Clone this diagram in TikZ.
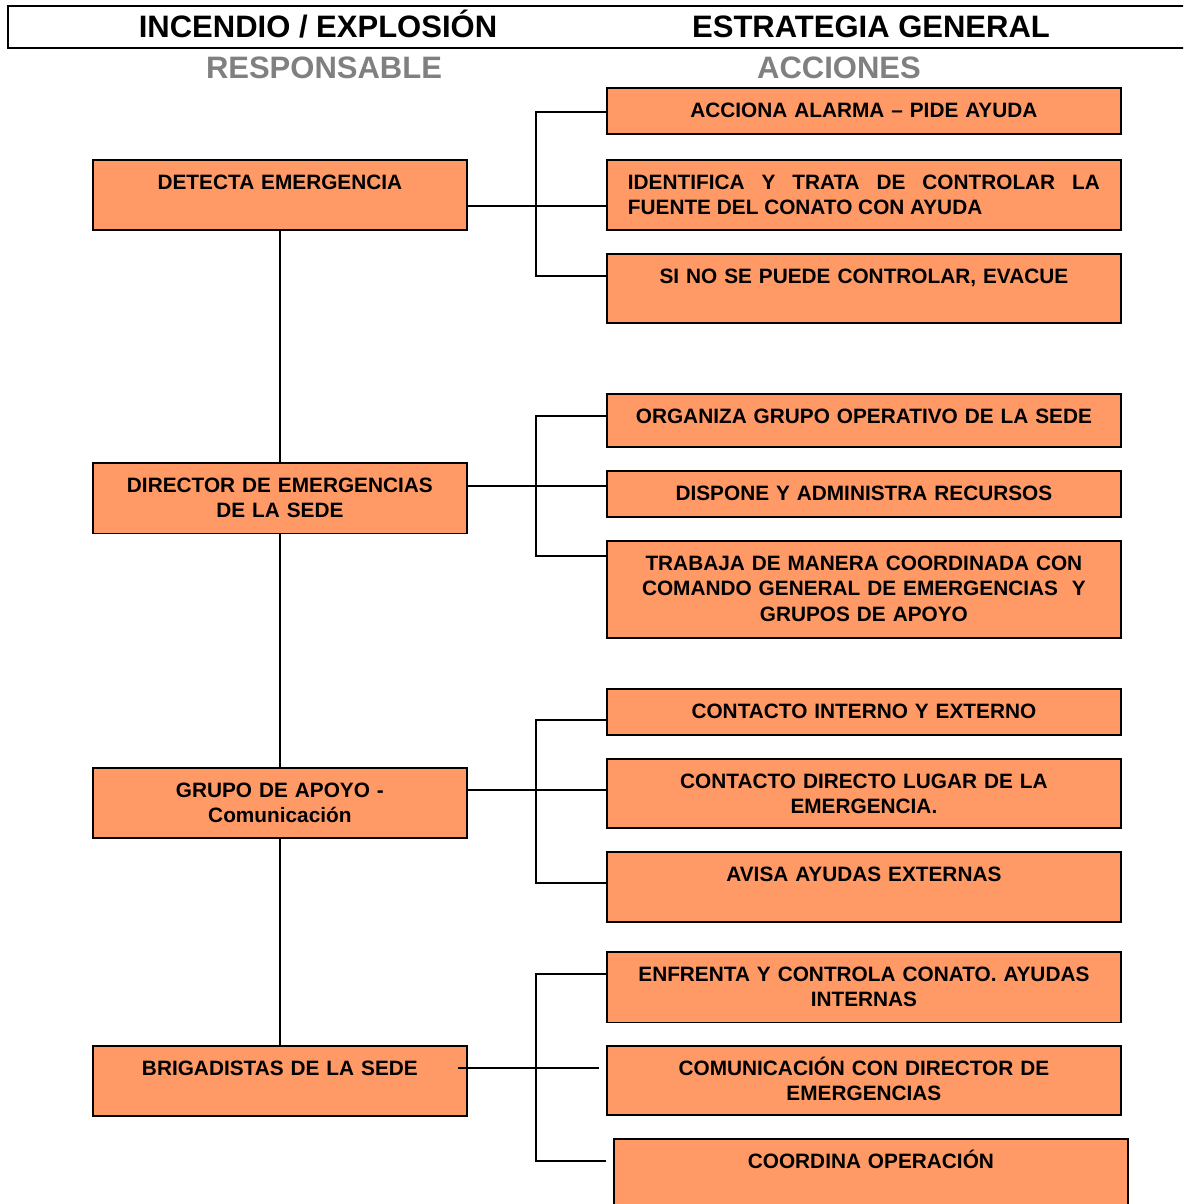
\documentclass[tikz,border=0pt]{standalone}
\usepackage{fontspec}
\setmainfont{Liberation Sans}
\usetikzlibrary{calc}
\definecolor{boxorange}{RGB}{255,153,102}
\definecolor{headgray}{RGB}{128,128,128}

\begin{document}
\begin{tikzpicture}[x=1pt, y=-1pt, line width=1.8pt,
	every node/.style={font=\bfseries\fontsize{20.8}{25.5}\selectfont},
	resp/.style={draw, fill=boxorange, anchor=north west, inner sep=0pt,
		text width=374pt, align=center, text height=29.5pt},
	accion/.style={resp, text width=514pt},
	titulo/.style={anchor=base, inner sep=0pt, font=\bfseries\fontsize{31}{36}\selectfont},
	subtitulo/.style={titulo, text=headgray}]
	\useasboundingbox (0,0) rectangle (1183,1204);
	\clip (0,0) rectangle (1183,1204);
	% encabezado
	\draw (1200,6) -- (8,6) -- (8,48) -- (1200,48);
	\node[titulo] (inc) at (318,38) {INCENDIO / EXPLOSIÓN};
	\node[titulo] (est) at (871,38) {ESTRATEGIA GENERAL};
	\node[subtitulo] (hresp) at (324,79) {RESPONSABLE};
	\node[subtitulo] (hacc) at (839,79) {ACCIONES};
	% responsables
	\node[resp, text depth=40.5pt] (det) at (92,159) {DETECTA EMERGENCIA};
	\node[resp, text depth=41pt] (dir) at (92,462) {DIRECTOR DE EMERGENCIAS\\DE LA SEDE};
	\node[resp, text depth=40.5pt] (grp) at (92,767) {GRUPO DE APOYO -\\Comunicación};
	\node[resp, text depth=40.5pt] (brig) at (92,1045) {BRIGADISTAS DE LA SEDE};
	% acciones
	\node[accion, text depth=16.5pt] (alarma) at (606,87) {ACCIONA ALARMA – PIDE AYUDA};
	\node[accion, text depth=40.5pt, text width=472pt, inner xsep=21pt, align=justify] (ident) at (606,159)
		{IDENTIFICA Y TRATA DE CONTROLAR LA\linebreak FUENTE DEL CONATO CON AYUDA};
	\node[accion, text depth=39.5pt] (evac) at (606,253) {SI NO SE PUEDE CONTROLAR, EVACUE};
	\node[accion, text depth=23.5pt] (org) at (606,393) {ORGANIZA GRUPO OPERATIVO DE LA SEDE};
	\node[accion, text depth=16.5pt] (disp) at (606,470) {DISPONE Y ADMINISTRA RECURSOS};
	\node[accion, text depth=67.5pt] (trab) at (606,540)
		{TRABAJA DE MANERA COORDINADA CON\\COMANDO GENERAL DE EMERGENCIAS~ Y\\GRUPOS DE APOYO};
	\node[accion, text depth=16.5pt] (cint) at (606,688) {CONTACTO INTERNO Y EXTERNO};
	\node[accion, text depth=39.5pt] (cdir) at (606,758) {CONTACTO DIRECTO LUGAR DE LA\\EMERGENCIA.};
	\node[accion, text depth=40.5pt] (avisa) at (606,851) {AVISA AYUDAS EXTERNAS};
	\node[accion, text depth=41pt] (enfr) at (606,951) {ENFRENTA Y CONTROLA CONATO. AYUDAS\\INTERNAS};
	\node[accion, text depth=39.5pt] (comu) at (606,1045) {COMUNICACIÓN CON DIRECTOR DE\\EMERGENCIAS};
	\node[accion, text depth=50pt] (coord) at (613,1138) {COORDINA OPERACIÓN};
	% tronco
	\draw (det) -- (dir);
	\draw (dir) -- (grp);
	\draw (grp) -- (brig);
	% ramas
	\coordinate (j1) at (536,206); \coordinate (t1) at (536,112); \coordinate (b1) at (536,276);
	\draw (det.east |- j1) -- (ident.west |- j1);
	\draw (t1 -| alarma.west) -- (t1) -- (b1) -- (b1 -| evac.west);
	\coordinate (j2) at (536,486); \coordinate (t2) at (536,416); \coordinate (b2) at (536,556);
	\draw (dir.east |- j2) -- (disp.west |- j2);
	\draw (t2 -| org.west) -- (t2) -- (b2) -- (b2 -| trab.west);
	\coordinate (j3) at (536,790); \coordinate (t3) at (536,720); \coordinate (b3) at (536,883);
	\draw (grp.east |- j3) -- (cdir.west |- j3);
	\draw (t3 -| cint.west) -- (t3) -- (b3) -- (b3 -| avisa.west);
	\coordinate (t4) at (536,974); \coordinate (b4) at (536,1161);
	\coordinate (e4) at (458,1068); \coordinate (f4) at (599,1068);
	\draw (e4) -- (f4);
	\draw (t4 -| enfr.west) -- (t4) -- (b4) -- (b4 -| comu.west);
\end{tikzpicture}
\end{document}
